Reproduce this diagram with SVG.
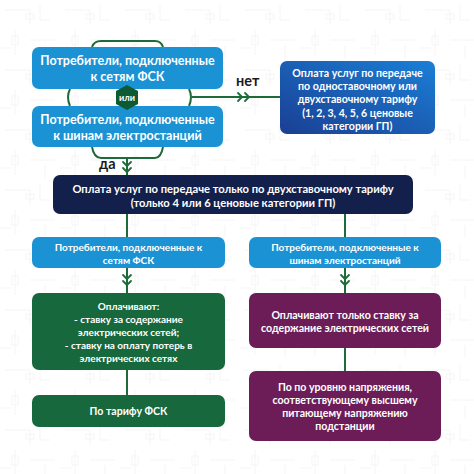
<svg xmlns="http://www.w3.org/2000/svg" width="474" height="474" viewBox="0 0 474 474">
<style>
.t{font-family:Lato,"Noto Sans","Liberation Sans",sans-serif;font-weight:700;fill:#fff;text-anchor:middle}
.s12{font-size:12.5px}
.s11{font-size:10.6px}
.s10{font-size:10px}
.s112{font-size:11.2px}
.ln{stroke:#1d6b3a;stroke-width:2;fill:none}
.ch{stroke:#1d6b3a;stroke-width:1.8;fill:none;stroke-linecap:round;stroke-linejoin:round}
.blue{fill:#1b92d3}
.green{fill:#17683c}
.purple{fill:#6c1d57}
.lbl{font-family:Lato,"Noto Sans","Liberation Sans",sans-serif;font-weight:700;font-size:14.5px;fill:#1a1a1a}
</style>
<defs>
<linearGradient id="g1" x1="0" y1="1" x2="1" y2="0">
<stop offset="0" stop-color="#1a3f93"/>
<stop offset="1" stop-color="#1a7fd6"/>
</linearGradient>
<pattern id="bg" width="60" height="60" patternUnits="userSpaceOnUse">
<path d="M5 10H30V25M30 40H55M15 30V55M40 5V20H50M45 45V58M0 48H12" stroke="#f1f1f1" stroke-width="0.7" fill="none"/>
<rect x="26" y="14" width="8" height="5" fill="none" stroke="#f1f1f1" stroke-width="0.7"/>
<rect x="12" y="36" width="6" height="9" fill="none" stroke="#f1f1f1" stroke-width="0.7"/>
</pattern>
</defs>
<rect width="474" height="474" fill="#fff"/>
<rect width="474" height="474" fill="url(#bg)"/>

<g id="connectors">
<path class="ln" d="M70 89 Q66 97 70 106"/>
<path class="ln" d="M189 89 Q193 97 189 106"/>
<path class="ln" d="M92 47 Q94 41 101 41 H155 Q161 41 163 47"/>
<path class="ln" d="M92 147 Q94 158 101 158 H155 Q161 158 163 147"/>
<path class="ln" d="M192 97 H280"/>
<polyline class="ch" points="238,93 242,97 238,101"/>
<polyline class="ch" points="245,93 249,97 245,101"/>
<path class="ln" d="M127 158 V175"/>
<polyline class="ch" points="123,162 127,166 131,162"/>
<polyline class="ch" points="123,168 127,172 131,168"/>
<path class="ln" d="M127 214 V237"/>
<path class="ln" d="M345 214 V237"/>
<path class="ln" d="M127 268 V293"/>
<polyline class="ch" points="123,275 127,279 131,275"/>
<polyline class="ch" points="123,281 127,285 131,281"/>
<path class="ln" d="M345 268 V293"/>
<polyline class="ch" points="341,275 345,279 349,275"/>
<polyline class="ch" points="341,281 345,285 349,281"/>
<path class="ln" d="M127 370 V395"/>
<path class="ln" d="M345 348 V371"/>
</g>

<g id="n1">
<rect class="blue" x="32" y="47" width="191" height="42" rx="7"/>
<text class="t s12" x="127.5" y="65">Потребители, подключенные</text>
<text class="t s12" x="127.5" y="81">к сетям ФСК</text>
</g>
<g id="n2">
<rect class="blue" x="32" y="106" width="191" height="41" rx="7"/>
<text class="t s12" x="127.5" y="124">Потребители, подключенные</text>
<text class="t s12" x="127.5" y="140">к шинам электростанций</text>
</g>
<g id="or">
<polygon fill="#0d5a33" points="127,85 138,91 138,104 127,110 116,104 116,91"/>
<text class="t" style="font-size:9px" x="127" y="100.5">или</text>
</g>
<text class="lbl" x="236" y="86">нет</text>
<text class="lbl" x="99" y="169">да</text>

<g id="n3">
<rect fill="url(#g1)" x="280" y="61" width="155" height="73" rx="7"/>
<text class="t s11" x="357.5" y="77">Оплата услуг по передаче</text>
<text class="t s11" x="357.5" y="90">по одноставочному или</text>
<text class="t s11" x="357.5" y="103">двухставочному тарифу</text>
<text class="t s11" x="357.5" y="117">(1, 2, 3, 4, 5, 6 ценовые</text>
<text class="t s11" x="357.5" y="130">категории ГП)</text>
</g>
<g id="n4">
<rect fill="#13204b" x="53" y="175" width="360" height="39" rx="7"/>
<text class="t s112" x="233" y="193">Оплата услуг по передаче только по двухставочному тарифу</text>
<text class="t s112" x="233" y="207">(только 4 или 6 ценовые категории ГП)</text>
</g>
<g id="n5">
<rect class="blue" x="32" y="237" width="193" height="31" rx="7"/>
<text class="t s10" x="128.5" y="251">Потребители, подключенные к</text>
<text class="t s10" x="128.5" y="264">сетям ФСК</text>
</g>
<g id="n6">
<rect class="blue" x="249" y="237" width="192" height="31" rx="7"/>
<text class="t s10" x="345" y="251">Потребители, подключенные к</text>
<text class="t s10" x="345" y="264">шинам электростанций</text>
</g>
<g id="n7">
<rect class="green" x="32" y="293" width="193" height="77" rx="7"/>
<text class="t s10" x="128.5" y="310">Оплачивают:</text>
<text class="t s10" x="128.5" y="323">- ставку за содержание</text>
<text class="t s10" x="128.5" y="336">электрических сетей;</text>
<text class="t s10" x="128.5" y="349">- ставку на оплату потерь в</text>
<text class="t s10" x="128.5" y="362">электрических сетях</text>
</g>
<g id="n8">
<rect class="green" x="32" y="395" width="193" height="32" rx="7"/>
<text class="t s11" x="128.5" y="415">По тарифу ФСК</text>
</g>
<g id="n9">
<rect class="purple" x="249" y="293" width="192" height="55" rx="7"/>
<text class="t s11" x="345" y="319">Оплачивают только ставку за</text>
<text class="t s11" x="345" y="332">содержание электрических сетей</text>
</g>
<g id="n10">
<rect class="purple" x="249" y="371" width="192" height="70" rx="7"/>
<text class="t s11" x="345" y="391">По по уровню напряжения,</text>
<text class="t s11" x="345" y="404">соответствующему высшему</text>
<text class="t s11" x="345" y="417">питающему напряжению</text>
<text class="t s11" x="345" y="430">подстанции</text>
</g>
</svg>
